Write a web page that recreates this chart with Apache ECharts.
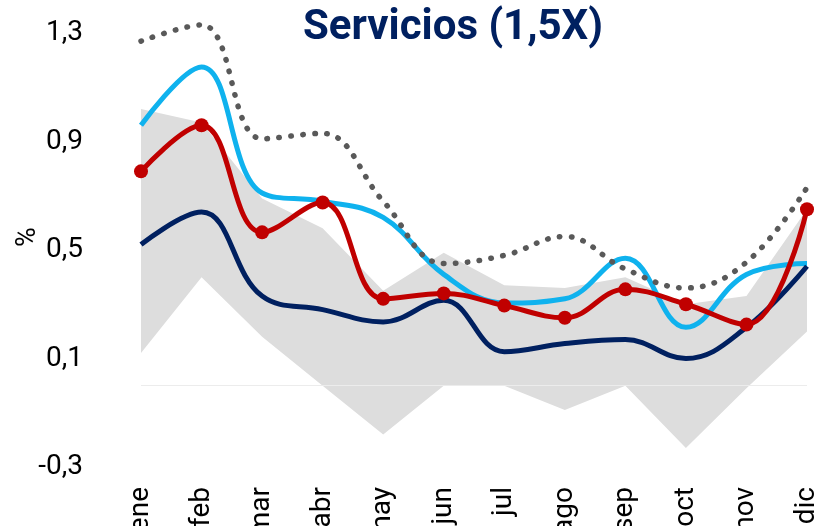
<!DOCTYPE html>
<html>
<head>
<meta charset="utf-8">
<script src="https://cdn.jsdelivr.net/npm/echarts@6/dist/echarts.min.js"></script>
<style>
  html, body { margin: 0; padding: 0; background: #fff; }
  #servicios { width: 839px; height: 526px; }
</style>
</head>
<body>
<div id="servicios"></div>
<script>
var meses = ['ene', 'feb', 'mar', 'abr', 'may', 'jun', 'jul', 'ago', 'sep', 'oct', 'nov', 'dic'];
var yTicks = [-0.3, 0.1, 0.5, 0.9, 1.3];

// rango min-max (zona gris)
var rangoMax = [1.02, 0.97, 0.69, 0.58, 0.35, 0.49, 0.37, 0.36, 0.40, 0.30, 0.33, 0.65];
var rangoMin = [0.12, 0.40, 0.18, 0.00, -0.18, 0.00, 0.00, -0.09, 0.00, -0.23, -0.01, 0.20];

var serieAzul = [0.52, 0.64, 0.33, 0.28, 0.235, 0.315, 0.125, 0.155, 0.17, 0.10, 0.215, 0.44];
var serieCeleste = [0.96, 1.175, 0.71, 0.68, 0.62, 0.41, 0.305, 0.32, 0.47, 0.215, 0.41, 0.45];
var serieRoja = [0.79, 0.96, 0.565, 0.675, 0.32, 0.34, 0.295, 0.25, 0.355, 0.30, 0.225, 0.65];
var seriePunteada = [1.27, 1.33, 0.91, 0.93, 0.68, 0.45, 0.48, 0.55, 0.43, 0.36, 0.455, 0.73];

var rangoAlto = rangoMax.map(function (v, i) { return +(v - rangoMin[i]).toFixed(3); });

var myChart = echarts.init(document.getElementById('servicios'));
var option = {
    animation: false,
    title: {
        text: 'Servicios (1,5X)',
        left: 298,
        top: 2,
        textStyle: {
            fontFamily: 'Roboto',
            fontSize: 42,
            fontWeight: 'bold',
            color: '#002060'
        }
    },
    grid: { left: 141, right: 32, top: 33, bottom: 59, outerBoundsMode: 'none' },
    xAxis: {
        type: 'category',
        data: meses,
        boundaryGap: false,
        axisLine: { show: false },
        axisTick: { show: false },
        axisLabel: {
            rotate: 90,
            margin: 20,
            fontFamily: 'Roboto',
            fontSize: 28,
            color: '#000'
        }
    },
    yAxis: {
        type: 'value',
        min: -0.3,
        max: 1.3,
        splitLine: { show: false },
        axisLine: { show: false },
        axisTick: { show: false },
        axisLabel: {
            customValues: yTicks,
            margin: 58,
            fontFamily: 'Roboto',
            fontSize: 28,
            color: '#000',
            formatter: function (v) { return v.toFixed(1).replace('.', ','); }
        }
    },
    graphic: [{
        type: 'text',
        x: 28,
        y: 237,
        rotation: Math.PI / 2,
        style: {
            text: '%',
            font: '27px Roboto',
            fill: '#000',
            textAlign: 'center',
            textVerticalAlign: 'middle'
        }
    }],
    series: [
        {
            name: 'min',
            type: 'line',
            data: rangoMin,
            stack: 'rango',
            stackStrategy: 'all',
            symbol: 'none',
            lineStyle: { opacity: 0 },
            silent: true
        },
        {
            name: 'rango',
            type: 'line',
            data: rangoAlto,
            stack: 'rango',
            stackStrategy: 'all',
            symbol: 'none',
            lineStyle: { opacity: 0 },
            areaStyle: { color: '#dddddd', opacity: 1 },
            silent: true,
            markLine: {
                silent: true,
                symbol: 'none',
                label: { show: false },
                lineStyle: { color: '#ececec', width: 1, type: 'solid' },
                data: [{ yAxis: 0 }]
            }
        },
        {
            name: 'celeste',
            type: 'line',
            data: serieCeleste,
            smooth: 0.4,
            clip: false,
            symbol: 'none',
            lineStyle: { color: '#0fb2ee', width: 5 }
        },
        {
            name: 'azul',
            type: 'line',
            data: serieAzul,
            smooth: 0.4,
            clip: false,
            symbol: 'none',
            lineStyle: { color: '#002060', width: 5 }
        },
        {
            name: 'roja',
            type: 'line',
            data: serieRoja,
            smooth: 0.4,
            clip: false,
            symbol: 'circle',
            symbolSize: 14,
            itemStyle: { color: '#c00000' },
            lineStyle: { color: '#c00000', width: 5 }
        },
        {
            name: 'punteada',
            type: 'line',
            data: seriePunteada,
            smooth: 0.4,
            clip: false,
            symbol: 'none',
            lineStyle: { color: '#595959', width: 5.5, type: [0.5, 11.5], cap: 'round' }
        }
    ]
};
myChart.setOption(option);
</script>
</body>
</html>
